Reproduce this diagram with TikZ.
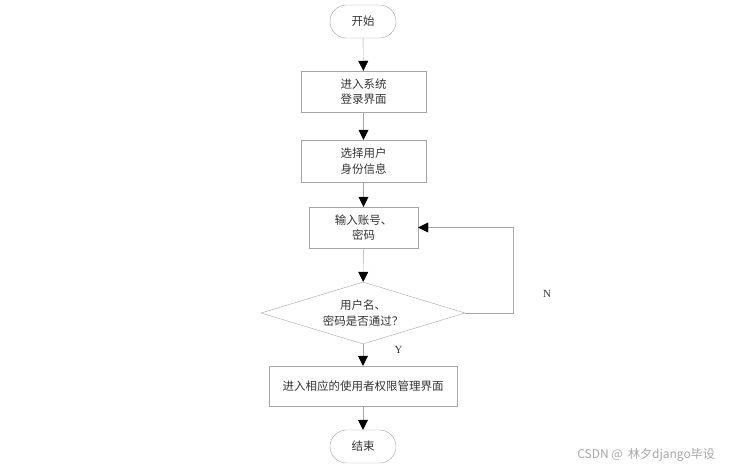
\documentclass[tikz,border=0pt]{standalone}
\usepackage{fontspec}
\setmainfont{Liberation Serif}
\newfontfamily\cjk{Noto Sans CJK SC}
\usepackage{tikz}
\usetikzlibrary{arrows.meta,shapes.geometric}
\usepackage{xcolor}
\definecolor{linegray}{HTML}{A6A6A6}
\definecolor{textgray}{HTML}{333333}

\begin{document}
\begin{tikzpicture}[x=1pt,y=-1pt,>={Triangle[length=10pt,width=10pt,color=black]},thin]
\tikzstyle{every node}=[text=textgray,font=\cjk\fontsize{11.5}{15.5}\selectfont]
\tikzstyle{term}=[draw=linegray,rectangle,rounded corners=16.5pt,minimum width=66pt,minimum height=33pt,inner sep=1pt]
\tikzstyle{unit}=[draw=linegray,rectangle,align=center,inner sep=1pt]
\tikzstyle{test}=[draw=linegray,diamond,aspect=3.3,align=center,minimum width=204pt,minimum height=62pt,inner sep=1pt]
  \useasboundingbox(0,0)rectangle(735,469);
  \node(start)at(363,21.5)[term]{开始};
  \node(login)at(363.5,91.5)[unit,minimum width=125pt,minimum height=41pt]{进入系统\\登录界面};
  \node(role)at(363.5,161)[unit,minimum width=125pt,minimum height=42pt]{选择用户\\身份信息};
  \node(input)at(363.5,227.5)[unit,minimum width=109pt,minimum height=41pt]{输入账号、\\密码};
  \node(check)at(363,313)[test]{用户名、\\密码是否通过？};
  \node(manage)at(363,386)[unit,minimum width=188pt,minimum height=40pt]{进入相应的使用者权限管理界面};
  \node(stop)at(363,446.5)[term]{结束};
  \coordinate(back)at(513,313);
  \draw[linegray,->](start)--(login);
  \draw[linegray,->](login)--(role);
  \draw[linegray,->](role)--(input);
  \draw[linegray,->](input)--(check);
  \draw[linegray,->](check)--node[pos=.25,right,shift={(28pt,0)},font=\rmfamily\fontsize{11}{13}\selectfont]{Y}(manage);
  \draw[linegray,->](manage)--(stop);
  \draw[linegray,->](check.east)--(back)--(back|-input.east)--(input.east);
  \node(no)at(547,294)[font=\rmfamily\fontsize{11}{13}\selectfont]{N};
  \node(mark)at(646,455)[text=black!35,font=\cjk\fontsize{12}{14}\selectfont]{CSDN @ \ 林夕django毕设};
\end{tikzpicture}
\end{document}
